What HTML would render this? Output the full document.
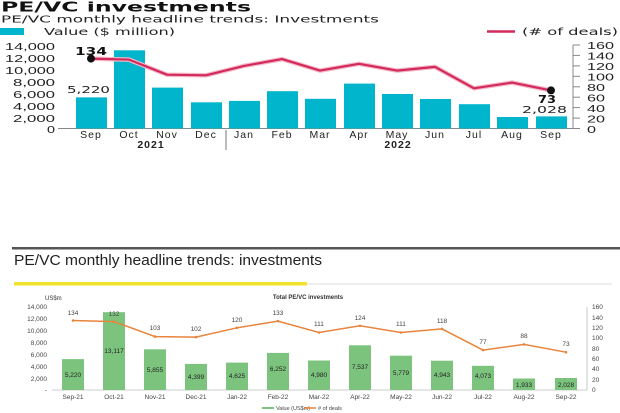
<!DOCTYPE html>
<html><head><meta charset="utf-8"><style>
body{margin:0;background:#fff;width:620px;height:413px;overflow:hidden}
svg{display:block}
text{font-family:"Liberation Sans",sans-serif}
.t{font-family:"DejaVu Sans",sans-serif}
</style></head><body>
<svg width="620" height="413" xmlns="http://www.w3.org/2000/svg">
<!-- TOP CHART -->
<text class="t" x="1" y="11.5" font-size="13" font-weight="bold" fill="#111" textLength="250" lengthAdjust="spacingAndGlyphs">PE/VC investments</text>
<text class="t" x="1" y="22.5" font-size="10" fill="#222" textLength="378" lengthAdjust="spacingAndGlyphs">PE/VC monthly headline trends: Investments</text>
<rect x="0" y="28" width="24" height="7" fill="#00b5cc"/>
<text class="t" x="44" y="35" font-size="10" fill="#222" textLength="131" lengthAdjust="spacingAndGlyphs">Value ($ million)</text>
<line x1="487" y1="31.5" x2="515" y2="31.5" stroke="#d42a5b" stroke-width="2.5"/>
<text class="t" x="522" y="35" font-size="10" fill="#222" textLength="96" lengthAdjust="spacingAndGlyphs">(# of deals)</text>
<g class="t" font-size="10" fill="#222">
<text x="5" y="50" textLength="50" lengthAdjust="spacingAndGlyphs">14,000</text>
<text x="5" y="62" textLength="50" lengthAdjust="spacingAndGlyphs">12,000</text>
<text x="5" y="74" textLength="50" lengthAdjust="spacingAndGlyphs">10,000</text>
<text x="13" y="86" textLength="42" lengthAdjust="spacingAndGlyphs">8,000</text>
<text x="13" y="98" textLength="42" lengthAdjust="spacingAndGlyphs">6,000</text>
<text x="13" y="110" textLength="42" lengthAdjust="spacingAndGlyphs">4,000</text>
<text x="13" y="122" textLength="42" lengthAdjust="spacingAndGlyphs">2,000</text>
<text x="47" y="133" textLength="8" lengthAdjust="spacingAndGlyphs">0</text>
</g>
<g stroke="#888" stroke-width="1">
<line x1="573" y1="45" x2="573" y2="128.5"/>
<line x1="573" y1="45" x2="580" y2="45"/><line x1="573" y1="55.4" x2="580" y2="55.4"/><line x1="573" y1="65.9" x2="580" y2="65.9"/><line x1="573" y1="76.3" x2="580" y2="76.3"/><line x1="573" y1="86.8" x2="580" y2="86.8"/><line x1="573" y1="97.2" x2="580" y2="97.2"/><line x1="573" y1="107.6" x2="580" y2="107.6"/><line x1="573" y1="118.1" x2="580" y2="118.1"/><line x1="573" y1="128.5" x2="580" y2="128.5"/>
<line x1="58" y1="128.5" x2="573" y2="128.5"/>
<line x1="226" y1="130" x2="226" y2="150" stroke="#777"/>
</g>
<g class="t" font-size="10" fill="#222">
<text x="587" y="49" textLength="27" lengthAdjust="spacingAndGlyphs">160</text>
<text x="587" y="59.5" textLength="27" lengthAdjust="spacingAndGlyphs">140</text>
<text x="587" y="70" textLength="27" lengthAdjust="spacingAndGlyphs">120</text>
<text x="587" y="80.5" textLength="27" lengthAdjust="spacingAndGlyphs">100</text>
<text x="587" y="91" textLength="18" lengthAdjust="spacingAndGlyphs">80</text>
<text x="587" y="101.5" textLength="18" lengthAdjust="spacingAndGlyphs">60</text>
<text x="587" y="112" textLength="18" lengthAdjust="spacingAndGlyphs">40</text>
<text x="587" y="122.5" textLength="18" lengthAdjust="spacingAndGlyphs">20</text>
<text x="587" y="133" textLength="9" lengthAdjust="spacingAndGlyphs">0</text>
</g>
<g fill="#00b5cc">
<rect x="76" y="97.4" width="31" height="31.1"/>
<rect x="114" y="50.3" width="31" height="78.2"/>
<rect x="152" y="87.6" width="31" height="40.9"/>
<rect x="191" y="102.3" width="31" height="26.2"/>
<rect x="229" y="100.9" width="31" height="27.6"/>
<rect x="267" y="91.2" width="31" height="37.3"/>
<rect x="305" y="98.8" width="31" height="29.7"/>
<rect x="344" y="83.6" width="31" height="44.9"/>
<rect x="382" y="94.0" width="31" height="34.5"/>
<rect x="420" y="99.0" width="31" height="29.5"/>
<rect x="459" y="104.2" width="31" height="24.3"/>
<rect x="497" y="117.0" width="31" height="11.5"/>
<rect x="536" y="116.4" width="31" height="12.1"/>
</g>
<polyline fill="none" stroke="#f3b8c8" stroke-width="4.5" stroke-linejoin="round" points="91,58.6 129,59.6 167,74.7 206,75.3 244,65.9 282,59.1 320,70.6 359,63.8 397,70.6 435,66.9 474,88.3 512,82.6 551,90.4"/>
<polyline fill="none" stroke="#d42a5b" stroke-width="2.2" stroke-linejoin="round" points="91,58.6 129,59.6 167,74.7 206,75.3 244,65.9 282,59.1 320,70.6 359,63.8 397,70.6 435,66.9 474,88.3 512,82.6 551,90.4"/>
<circle cx="91" cy="58.6" r="4" fill="#111"/>
<circle cx="551" cy="90.4" r="4" fill="#111"/>
<text class="t" x="75" y="55" font-size="11" font-weight="bold" fill="#111" textLength="32" lengthAdjust="spacingAndGlyphs">134</text>
<text class="t" x="538" y="103" font-size="11" font-weight="bold" fill="#111" textLength="18" lengthAdjust="spacingAndGlyphs">73</text>
<text class="t" x="67" y="93" font-size="10" fill="#222" textLength="43" lengthAdjust="spacingAndGlyphs">5,220</text>
<text class="t" x="522" y="113" font-size="10" fill="#222" textLength="45" lengthAdjust="spacingAndGlyphs">2,028</text>
<g class="t" font-size="10.5" fill="#222" text-anchor="middle" letter-spacing="1">
<text x="91" y="138">Sep</text><text x="129" y="138">Oct</text><text x="167" y="138">Nov</text><text x="206" y="138">Dec</text><text x="244" y="138">Jan</text><text x="282" y="138">Feb</text><text x="320" y="138">Mar</text><text x="359" y="138">Apr</text><text x="397" y="138">May</text><text x="435" y="138">Jun</text><text x="474" y="138">Jul</text><text x="512" y="138">Aug</text><text x="551" y="138">Sep</text>
<text x="151" y="148" font-weight="bold">2021</text><text x="398" y="148" font-weight="bold">2022</text>
</g>

<!-- BOTTOM CHART -->
<rect x="12" y="247" width="608" height="2.5" fill="#555"/>
<text x="14" y="265" font-size="15" fill="#222" textLength="308" lengthAdjust="spacingAndGlyphs">PE/VC monthly headline trends: investments</text>
<rect x="14" y="282" width="293" height="3.5" fill="#f2e22c"/>
<line x1="307" y1="284" x2="612" y2="284" stroke="#ddd" stroke-width="1"/>
<text x="45" y="300" font-size="6" fill="#333">US$m</text>
<text x="308" y="299" font-size="6" font-weight="bold" fill="#333" text-anchor="middle">Total PE/VC investments</text>
<g font-size="6.5" fill="#444" text-anchor="end">
<text x="47" y="309">14,000</text><text x="47" y="321">12,000</text><text x="47" y="333">10,000</text><text x="47" y="345">8,000</text><text x="47" y="357">6,000</text><text x="47" y="369">4,000</text><text x="47" y="381">2,000</text><text x="47" y="392">-</text>
</g>
<g stroke="#bbb" stroke-width="0.8">
<line x1="52" y1="390" x2="587" y2="390"/>
<line x1="587" y1="307" x2="587" y2="390"/>
</g>
<g font-size="6.5" fill="#444">
<text x="592" y="309">160</text><text x="592" y="320">140</text><text x="592" y="330">120</text><text x="592" y="340">100</text><text x="592" y="351">80</text><text x="592" y="361">60</text><text x="592" y="371">40</text><text x="592" y="382">20</text><text x="592" y="392">0</text>
</g>
<g fill="#7cc47e">
<rect x="62" y="359.1" width="22" height="30.9"/>
<rect x="103" y="312.2" width="22" height="77.8"/>
<rect x="144" y="349.3" width="22" height="40.7"/>
<rect x="185" y="363.9" width="22" height="26.1"/>
<rect x="226" y="362.6" width="22" height="27.4"/>
<rect x="267" y="352.9" width="22" height="37.1"/>
<rect x="308" y="360.5" width="22" height="29.5"/>
<rect x="349" y="345.3" width="22" height="44.7"/>
<rect x="390" y="355.7" width="22" height="34.3"/>
<rect x="431" y="360.7" width="22" height="29.3"/>
<rect x="472" y="365.8" width="22" height="24.2"/>
<rect x="513" y="378.5" width="22" height="11.5"/>
<rect x="555" y="378.0" width="22" height="12.0"/>
</g>
<polyline fill="none" stroke="#e8843c" stroke-width="1.5" points="73,320.5 114,321.6 155,336.6 196,337.1 237,327.8 278,321.1 319,332.5 360,325.8 401,332.5 442,328.9 483,350.1 524,344.4 566,352.2"/>
<g fill="#e8843c">
<circle cx="73" cy="320.5" r="1.3"/><circle cx="114" cy="321.6" r="1.3"/><circle cx="155" cy="336.6" r="1.3"/><circle cx="196" cy="337.1" r="1.3"/><circle cx="237" cy="327.8" r="1.3"/><circle cx="278" cy="321.1" r="1.3"/><circle cx="319" cy="332.5" r="1.3"/><circle cx="360" cy="325.8" r="1.3"/><circle cx="401" cy="332.5" r="1.3"/><circle cx="442" cy="328.9" r="1.3"/><circle cx="483" cy="350.1" r="1.3"/><circle cx="524" cy="344.4" r="1.3"/><circle cx="566" cy="352.2" r="1.3"/>
</g>
<g font-size="6.5" fill="#444" text-anchor="middle">
<text x="73" y="315">134</text><text x="114" y="316">132</text><text x="155" y="330">103</text><text x="196" y="331">102</text><text x="237" y="322">120</text><text x="278" y="315">133</text><text x="319" y="326">111</text><text x="360" y="320">124</text><text x="401" y="326">111</text><text x="442" y="323">118</text><text x="483" y="344">77</text><text x="524" y="338">88</text><text x="566" y="346">73</text>
</g>
<g font-size="6.5" fill="#222" text-anchor="middle">
<text x="73" y="377">5,220</text><text x="114" y="353">13,117</text><text x="155" y="372">5,855</text><text x="196" y="379">4,399</text><text x="237" y="378">4,625</text><text x="278" y="371">6,252</text><text x="319" y="377">4,980</text><text x="360" y="369">7,537</text><text x="401" y="375">5,779</text><text x="442" y="377">4,943</text><text x="483" y="378">4,073</text><text x="524" y="387">1,933</text><text x="566" y="387">2,028</text>
</g>
<g font-size="6.5" fill="#444" text-anchor="middle">
<text x="73" y="399">Sep-21</text><text x="114" y="399">Oct-21</text><text x="155" y="399">Nov-21</text><text x="196" y="399">Dec-21</text><text x="237" y="399">Jan-22</text><text x="278" y="399">Feb-22</text><text x="319" y="399">Mar-22</text><text x="360" y="399">Apr-22</text><text x="401" y="399">May-22</text><text x="442" y="399">Jun-22</text><text x="483" y="399">Jul-22</text><text x="524" y="399">Aug-22</text><text x="566" y="399">Sep-22</text>
</g>
<rect x="262" y="407" width="12" height="2" fill="#7cc47e"/>
<text x="276" y="410" font-size="5.5" fill="#444">Value (US$m)</text>
<line x1="304" y1="408" x2="316" y2="408" stroke="#e8843c" stroke-width="1.5"/>
<text x="318" y="410" font-size="5.5" fill="#444"># of deals</text>
</svg>
</body></html>
